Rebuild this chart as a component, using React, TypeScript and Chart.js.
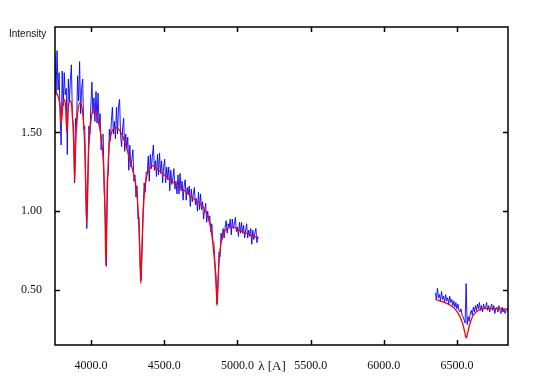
import React, { useEffect, useRef } from 'react';
import { Chart, registerables } from 'chart.js';

Chart.register(...registerables);

// Observed spectrum (blue), sampled every 7 Å
const obsStep = 7;
const obsStart1 = 3754;
const obsFlux1 = [
  2.00, 1.74, 2.02, 1.77, 1.88, 1.60, 1.42, 1.89, 1.67, 1.88,
  1.74, 1.78, 1.36, 1.84, 1.70, 1.83, 1.93, 1.59, 1.55, 1.18,
  1.59, 1.52, 1.86, 1.70, 1.95, 1.62, 1.78, 1.84, 1.52, 1.54,
  1.17, 0.89, 1.10, 1.54, 1.49, 1.67, 1.82, 1.62, 1.72, 1.57,
  1.76, 1.56, 1.75, 1.55, 1.62, 1.39, 1.48, 1.49, 1.13, 0.99,
  0.65, 1.21, 1.24, 1.52, 1.45, 1.57, 1.66, 1.49, 1.57, 1.46,
  1.66, 1.49, 1.67, 1.71, 1.48, 1.41, 1.53, 1.59, 1.38, 1.49,
  1.40, 1.47, 1.26, 1.42, 1.28, 1.33, 1.39, 1.19, 1.23, 1.09,
  1.16, 0.95, 0.96, 0.66, 0.56, 0.75, 1.00, 1.18, 1.12, 1.25,
  1.24, 1.35, 1.19, 1.36, 1.27, 1.35, 1.42, 1.26, 1.32, 1.22,
  1.36, 1.23, 1.37, 1.24, 1.32, 1.18, 1.28, 1.33, 1.18, 1.28,
  1.20, 1.28, 1.13, 1.26, 1.17, 1.21, 1.27, 1.14, 1.19, 1.11,
  1.23, 1.11, 1.24, 1.13, 1.19, 1.07, 1.16, 1.20, 1.07, 1.15,
  1.11, 1.16, 1.03, 1.14, 1.06, 1.11, 1.15, 1.04, 1.08, 1.00,
  1.12, 1.01, 1.11, 1.01, 1.06, 0.95, 1.01, 1.05, 0.93, 1.00,
  0.94, 0.97, 0.87, 0.92, 0.81, 0.80, 0.68, 0.60, 0.41, 0.52,
  0.74, 0.71, 0.86, 0.82, 0.89, 0.83, 0.90, 0.94, 0.86, 0.92,
  0.90, 0.95, 0.85, 0.95, 0.89, 0.92, 0.96, 0.87, 0.90, 0.84,
  0.93, 0.86, 0.93, 0.86, 0.91, 0.83, 0.88, 0.92, 0.83, 0.88,
  0.84, 0.89, 0.79, 0.88, 0.82, 0.86, 0.89, 0.80, 0.84,
];
const obsStart2 = 6352;
const obsFlux2 = [
  0.48, 0.44, 0.51, 0.45, 0.47, 0.43, 0.49, 0.44, 0.46, 0.42,
  0.47, 0.43, 0.45, 0.41, 0.46, 0.42, 0.44, 0.40, 0.43, 0.39,
  0.42, 0.38, 0.41, 0.37, 0.36, 0.38, 0.34, 0.33, 0.31, 0.29,
  0.54, 0.28, 0.33, 0.30, 0.35, 0.37, 0.34, 0.39, 0.36, 0.40,
  0.37, 0.41, 0.38, 0.42, 0.37, 0.40, 0.36, 0.41, 0.38, 0.39,
  0.42, 0.37, 0.40, 0.36, 0.39, 0.41, 0.37, 0.40, 0.35, 0.38,
  0.39, 0.36, 0.40, 0.37, 0.35, 0.39, 0.36, 0.38, 0.35, 0.37,
  0.38, 0.36,
];

// Model spectrum (red)
const modelWave1 = [
  3754, 3765, 3778, 3790, 3798, 3806, 3815, 3825, 3835, 3845,
  3857, 3868, 3878, 3884, 3889, 3894, 3900, 3912, 3925, 3938,
  3950, 3958, 3964, 3970, 3976, 3982, 3990, 4000, 4016, 4035,
  4050, 4063, 4075, 4085, 4092, 4097, 4102, 4107, 4112, 4120,
  4132, 4150, 4170, 4190, 4215, 4240, 4262, 4285, 4300, 4315,
  4326, 4334, 4340, 4346, 4354, 4365, 4380, 4400, 4423, 4450,
  4500, 4550, 4600, 4650, 4700, 4740, 4770, 4800, 4822, 4840,
  4850, 4856, 4861, 4866, 4872, 4881, 4895, 4910, 4935, 4970,
  5010, 5060, 5100, 5145,
];
const modelFlux1 = [
  1.76, 1.75, 1.72, 1.66, 1.56, 1.66, 1.71, 1.68, 1.50, 1.66,
  1.70, 1.67, 1.52, 1.38, 1.19, 1.38, 1.52, 1.65, 1.69, 1.66,
  1.55, 1.38, 1.15, 0.91, 1.15, 1.35, 1.48, 1.58, 1.65, 1.62,
  1.57, 1.51, 1.42, 1.30, 1.12, 0.90, 0.66, 0.90, 1.15, 1.36,
  1.47, 1.52, 1.53, 1.52, 1.48, 1.41, 1.34, 1.26, 1.20, 1.10,
  0.92, 0.72, 0.54, 0.72, 0.94, 1.12, 1.22, 1.27, 1.29, 1.27,
  1.23, 1.19, 1.16, 1.12, 1.08, 1.05, 1.02, 0.96, 0.87, 0.72,
  0.60, 0.50, 0.40, 0.52, 0.64, 0.75, 0.83, 0.87, 0.89, 0.90,
  0.88, 0.86, 0.845, 0.83,
];
const modelWave2 = [6352, 6400, 6450, 6490, 6520, 6540, 6553, 6563, 6573, 6586, 6605, 6630, 6660, 6700, 6750, 6800, 6850];
const modelFlux2 = [0.44, 0.425, 0.405, 0.375, 0.33, 0.28, 0.23, 0.195, 0.23, 0.28, 0.33, 0.36, 0.375, 0.383, 0.382, 0.38, 0.378];

const xTicks = [4000, 4500, 5000, 5500, 6000, 6500];
const yTicks = [0.5, 1.0, 1.5];
const xRange = [3754, 6848];
const yRange = [0.15, 2.17];

const obsPoints = (start: number, flux: number[]) => flux.map((y, i) => ({ x: start + i * obsStep, y }));
const modelPoints = (wave: number[], flux: number[]) => wave.map((x, i) => ({ x, y: flux[i] }));

const framePlugin = {
  id: 'frame',
  afterDraw(chart: any) {
    const { ctx, chartArea: a, scales } = chart;
    const xs = scales.x;
    const ys = scales.y;
    ctx.save();
    ctx.strokeStyle = '#000';
    ctx.lineWidth = 1.5;
    ctx.strokeRect(a.left, a.top, a.right - a.left, a.bottom - a.top);
    const tl = 5;
    ctx.beginPath();
    xTicks.forEach((v) => {
      const px = Math.round(xs.getPixelForValue(v)) + 0.5;
      ctx.moveTo(px, a.bottom);
      ctx.lineTo(px, a.bottom - tl);
      ctx.moveTo(px, a.top);
      ctx.lineTo(px, a.top + tl);
    });
    yTicks.forEach((v) => {
      const py = Math.round(ys.getPixelForValue(v)) + 0.5;
      ctx.moveTo(a.left, py);
      ctx.lineTo(a.left + tl, py);
      ctx.moveTo(a.right, py);
      ctx.lineTo(a.right - tl, py);
    });
    ctx.stroke();
    ctx.fillStyle = '#111';
    ctx.font = '10px "Liberation Sans", Arial, sans-serif';
    ctx.textAlign = 'left';
    ctx.textBaseline = 'alphabetic';
    ctx.fillText('Intensity', 9, 37);
    ctx.font = '13px "Liberation Serif", "Times New Roman", serif';
    ctx.textAlign = 'center';
    ctx.fillText('λ [A]', 272, 370);
    ctx.restore();
  },
};

export default function App() {
  const ref = useRef<HTMLCanvasElement | null>(null);
  useEffect(() => {
    if (!ref.current) return;
    const chart = new Chart(ref.current, {
      type: 'scatter',
      data: {
        datasets: [
          { data: modelPoints(modelWave1, modelFlux1), showLine: true, borderColor: '#ff0000', borderWidth: 1.3, pointRadius: 0, cubicInterpolationMode: 'monotone', order: 0 } as any,
          { data: modelPoints(modelWave2, modelFlux2), showLine: true, borderColor: '#ff0000', borderWidth: 1.3, pointRadius: 0, cubicInterpolationMode: 'monotone', order: 0 } as any,
          { data: obsPoints(obsStart1, obsFlux1), showLine: true, borderColor: 'rgba(0,0,255,0.9)', borderWidth: 1, pointRadius: 0, order: 1 } as any,
          { data: obsPoints(obsStart2, obsFlux2), showLine: true, borderColor: 'rgba(0,0,255,0.9)', borderWidth: 1, pointRadius: 0, order: 1 } as any,
        ],
      },
      options: {
        responsive: false,
        animation: false,
        events: [],
        layout: { padding: { top: 27, right: 37, left: 0, bottom: 0 } },
        plugins: { legend: { display: false }, tooltip: { enabled: false }, title: { display: false } },
        scales: {
          x: {
            type: 'linear',
            min: xRange[0],
            max: xRange[1],
            grid: { display: false },
            border: { display: false },
            afterBuildTicks: (s: any) => { s.ticks = xTicks.map((v) => ({ value: v })); },
            afterFit: (s: any) => { s.height = 37; },
            ticks: {
              padding: 6,
              color: '#111',
              maxRotation: 0,
              autoSkip: false,
              font: { family: '"Liberation Serif", "Times New Roman", serif', size: 12 },
              callback: (v: any) => Number(v).toFixed(1),
            },
          },
          y: {
            type: 'linear',
            min: yRange[0],
            max: yRange[1],
            grid: { display: false },
            border: { display: false },
            afterBuildTicks: (s: any) => { s.ticks = yTicks.map((v) => ({ value: v })); },
            afterFit: (s: any) => { s.width = 55; },
            ticks: {
              padding: 5,
              color: '#111',
              font: { family: '"Liberation Serif", "Times New Roman", serif', size: 12 },
              callback: (v: any) => Number(v).toFixed(2),
            },
          },
        },
      } as any,
      plugins: [framePlugin],
    });
    return () => chart.destroy();
  }, []);
  return (
    <div style={{ position: 'fixed', left: 0, top: 0, width: 545, height: 382, background: '#fff' }}>
      <canvas ref={ref} width={545} height={382} style={{ display: 'block' }} />
    </div>
  );
}
